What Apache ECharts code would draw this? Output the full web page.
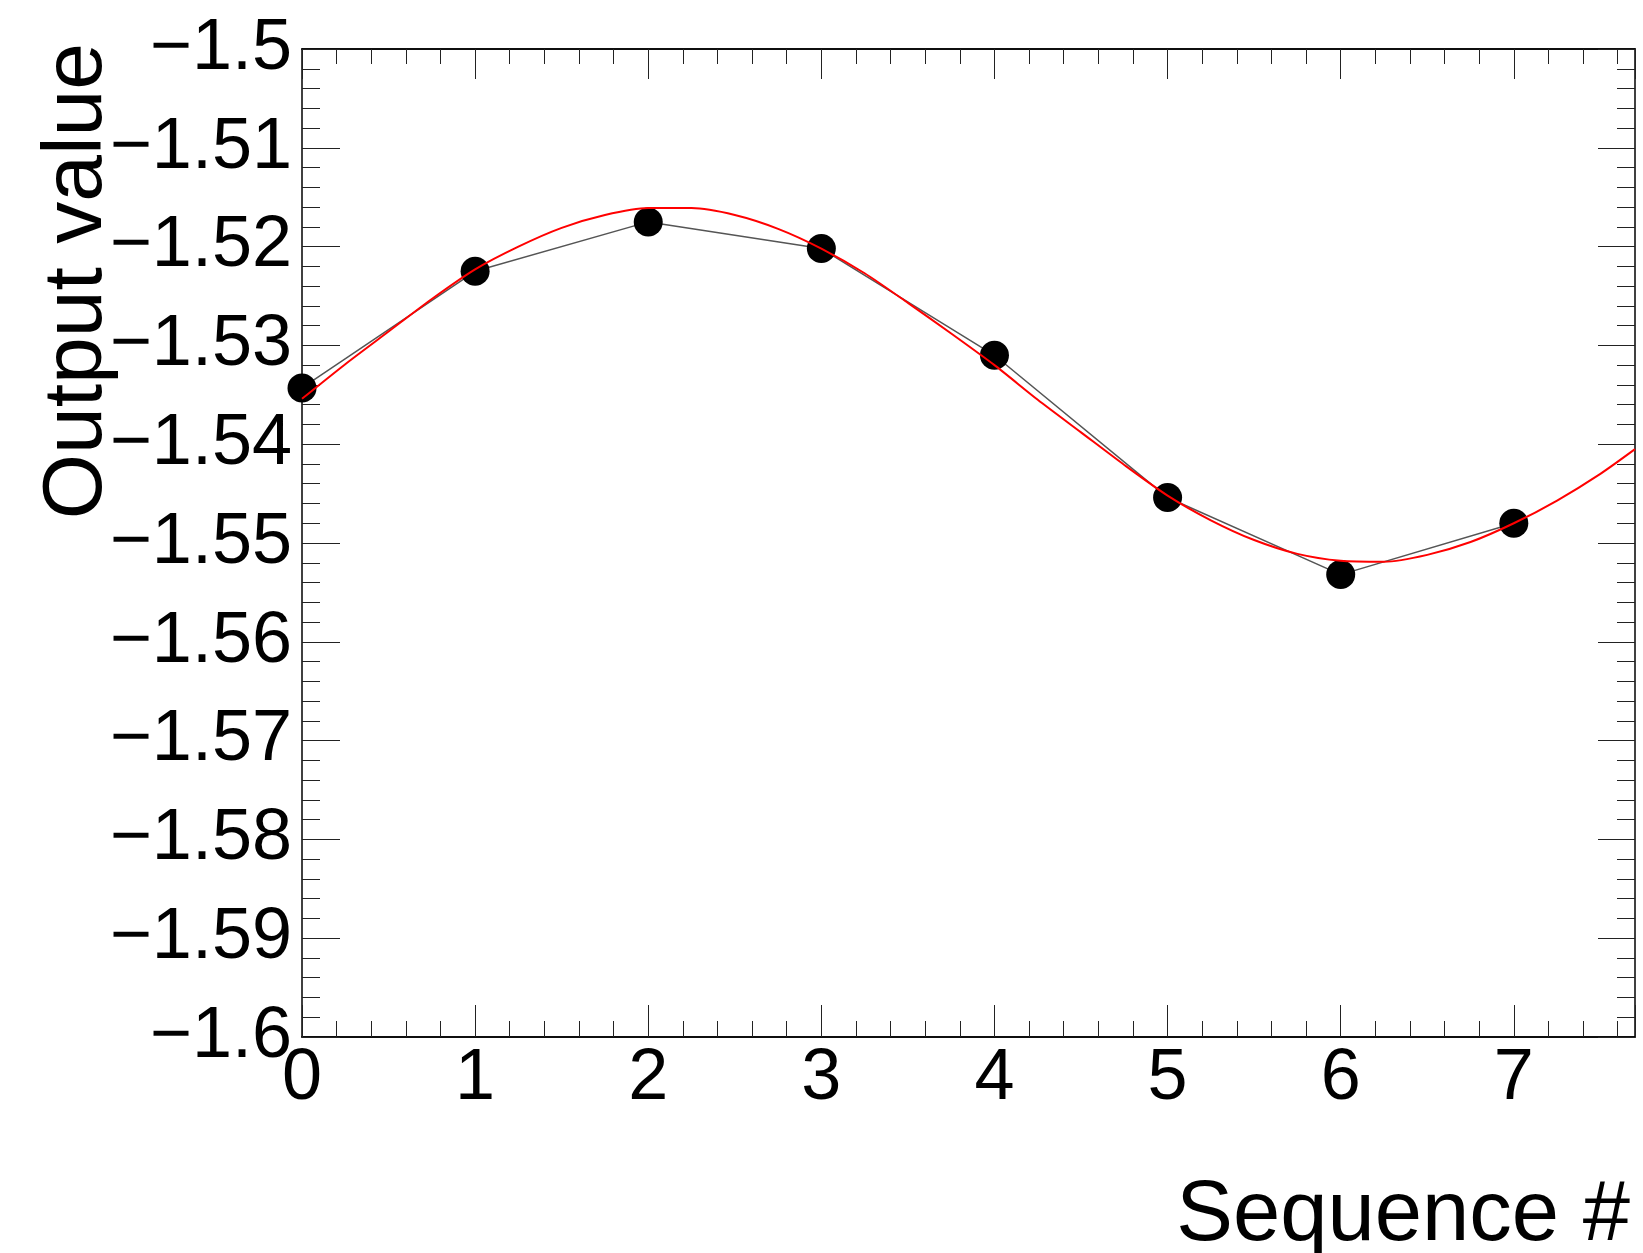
<!DOCTYPE html>
<html>
<head>
<meta charset="utf-8">
<title>Output value vs Sequence #</title>
<script src="https://cdn.jsdelivr.net/npm/echarts@6/dist/echarts.min.js"></script>
<style>
  html, body { margin: 0; padding: 0; background: #fff; }
  #chart { width: 1643px; height: 1253px; }
</style>
</head>
<body>
<div id="chart"></div>
<script>
// measured points (Sequence #, Output value)
const seqX = [0, 1, 2, 3, 4, 5, 6, 7];
const outputValues = [-1.5343, -1.5225, -1.5175, -1.5202, -1.5310, -1.5454, -1.5532, -1.5480];

// red fit curve, every quarter step
const fitX = [0, 0.25, 0.5, 0.75, 1.0, 1.25, 1.5, 1.75, 2.0, 2.25, 2.5, 2.75, 3.0, 3.25, 3.5, 3.75,
              4.0, 4.25, 4.5, 4.75, 5.0, 5.25, 5.5, 5.75, 6.0, 6.25, 6.5, 6.75, 7.0, 7.25, 7.5, 7.7];
const fitY = [-1.5354, -1.5319, -1.5286, -1.5253, -1.5223, -1.5200, -1.5181, -1.5168, -1.5161, -1.5161,
              -1.5168, -1.5182, -1.5202, -1.5227, -1.5257, -1.5288, -1.5320, -1.5355, -1.5388, -1.5421,
              -1.5452, -1.5477, -1.5497, -1.5511, -1.5518, -1.5519, -1.5512, -1.5499, -1.5480, -1.5457,
              -1.5430, -1.5405];

const xRange = [0, 7.7];
const yRange = [-1.6, -1.5];
const xMajor = 1, xMinor = 0.2;
const yMajor = 0.01;

const FONT = '"Liberation Sans", Arial, Helvetica, sans-serif';
const frame = { show: true, onZero: false, lineStyle: { color: '#000', width: 1.5 } };
const tickStyle = { color: '#222', width: 1 };

const chart = echarts.init(document.getElementById('chart'));

const fmtY = (v) => Number(v.toFixed(3)).toString().replace('-', '\u2212');
const fmtX = (v) => (Math.abs(v - Math.round(v)) < 1e-6 ? String(Math.round(v)) : '');

const xAxisBase = { type: 'value', min: xRange[0], max: xRange[1], splitLine: { show: false }, axisLine: frame };

const option = {
  backgroundColor: '#fff',
  animation: false,
  grid: { left: 302, top: 49, right: 8, bottom: 216, outerBoundsMode: 'none', containLabel: false },
  xAxis: [
    {
      ...xAxisBase, position: 'bottom', interval: xMajor,
      axisTick: { show: true, inside: true, length: 32, lineStyle: tickStyle },
      axisLabel: { show: true, formatter: fmtX, fontSize: 72, fontFamily: FONT, color: '#000', margin: 6 }
    },
    {
      ...xAxisBase, position: 'bottom', interval: xMinor,
      axisTick: { show: true, inside: true, length: 16, lineStyle: tickStyle },
      axisLabel: { show: false }
    },
    {
      ...xAxisBase, position: 'top', interval: xMajor,
      axisTick: { show: true, inside: true, length: 30, lineStyle: tickStyle },
      axisLabel: { show: false }
    },
    {
      ...xAxisBase, position: 'top', interval: xMinor,
      axisTick: { show: true, inside: true, length: 15, lineStyle: tickStyle },
      axisLabel: { show: false }
    }
  ],
  yAxis: [
    {
      type: 'value', position: 'left', min: yRange[0], max: yRange[1], interval: yMajor,
      splitLine: { show: false }, axisLine: frame,
      axisTick: { show: true, inside: true, length: 38, lineStyle: tickStyle },
      minorTick: { show: true, splitNumber: 5, length: 18, lineStyle: tickStyle },
      axisLabel: { show: true, formatter: fmtY, fontSize: 72, fontFamily: FONT, color: '#000', margin: 10 }
    },
    {
      type: 'value', position: 'right', min: yRange[0], max: yRange[1], interval: yMajor,
      splitLine: { show: false }, axisLine: frame,
      axisTick: { show: true, inside: true, length: 37, lineStyle: tickStyle },
      minorTick: { show: true, splitNumber: 5, length: 18, lineStyle: tickStyle },
      axisLabel: { show: false }
    }
  ],
  series: [
    {
      name: 'data',
      type: 'line',
      xAxisIndex: 0,
      yAxisIndex: 0,
      data: seqX.map((x, i) => [x, outputValues[i]]),
      symbol: 'circle',
      symbolSize: 29,
      itemStyle: { color: '#000' },
      lineStyle: { color: '#555', width: 1.5 },
      z: 2
    },
    {
      name: 'fit',
      type: 'line',
      xAxisIndex: 0,
      yAxisIndex: 0,
      data: fitX.map((x, i) => [x, fitY[i]]),
      smooth: 0.25,
      showSymbol: false,
      symbol: 'none',
      lineStyle: { color: '#ff0000', width: 2 },
      z: 3
    }
  ],
  graphic: [
    {
      type: 'text',
      x: 36,
      y: 43,
      rotation: Math.PI / 2,
      style: {
        text: 'Output value',
        font: '84px ' + FONT,
        fill: '#000',
        textAlign: 'right',
        textVerticalAlign: 'top'
      }
    },
    {
      type: 'text',
      x: 1630,
      y: 1217,
      style: {
        text: 'Sequence #',
        font: '85px ' + FONT,
        fill: '#000',
        textAlign: 'right',
        textVerticalAlign: 'middle'
      }
    }
  ]
};

chart.setOption(option);
window.addEventListener('resize', () => chart.resize());
</script>
</body>
</html>
